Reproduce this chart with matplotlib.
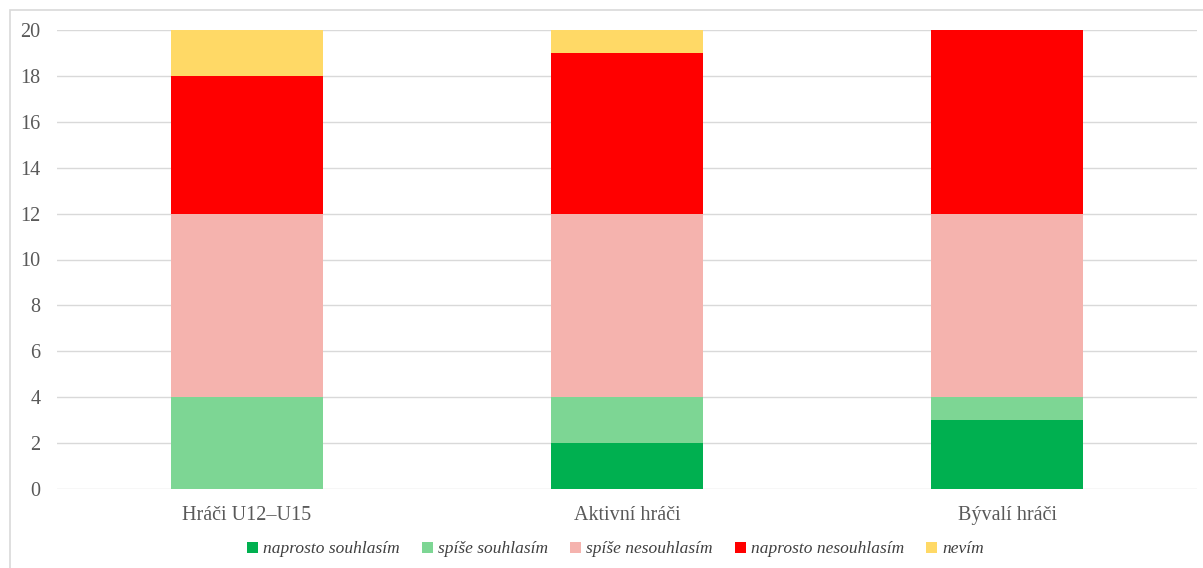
import matplotlib
matplotlib.use("Agg")
import matplotlib.pyplot as plt
from matplotlib.patches import Rectangle
import numpy as np

# Data
categories = ["Hráči U12–U15", "Aktivní hráči", "Bývalí hráči"]
series_names = ["naprosto souhlasím", "spíše souhlasím", "spíše nesouhlasím",
                "naprosto nesouhlasím", "nevím"]
naprosto_souhlasim = [0, 2, 3]
spise_souhlasim = [4, 2, 1]
spise_nesouhlasim = [8, 8, 8]
naprosto_nesouhlasim = [6, 7, 8]
nevim = [2, 1, 0]
colors = ["#00B050", "#7DD694", "#F5B3AE", "#FF0000", "#FFD966"]

plt.rcParams['font.family'] = ['Liberation Serif', 'DejaVu Serif']

fig = plt.figure(figsize=(12.03, 5.68), dpi=100)
ax = fig.add_axes([57 / 1203, 79 / 568, 1140 / 1203, 459 / 568])

# Outer chart border
fig.patches.append(Rectangle((10 / 1203, -0.01), 1200 / 1203, 558 / 568 + 0.01,
                             transform=fig.transFigure, fill=False,
                             edgecolor="#d9d9d9", linewidth=1.2))

x = np.arange(len(categories))
bottom = np.zeros(len(categories))
all_series = [naprosto_souhlasim, spise_souhlasim, spise_nesouhlasim,
              naprosto_nesouhlasim, nevim]
for name, vals, col in zip(series_names, all_series, colors):
    ax.bar(x, vals, width=0.4, bottom=bottom, color=col, label=name, zorder=3)
    bottom += np.array(vals)

ax.set_xlim(-0.5, 2.5)
ax.set_ylim(0, 20)
ax.set_yticks(range(0, 21, 2))
ax.set_xticks(x)
ax.set_xticklabels(categories)
ax.grid(axis="y", color="#d9d9d9", linewidth=1, zorder=0)
for s in ax.spines.values():
    s.set_visible(False)
ax.tick_params(axis="both", length=0, labelsize=14.5, colors="#595959")
ax.tick_params(axis="y", pad=12)
ax.tick_params(axis="x", pad=12)

leg = ax.legend(loc="upper center", bbox_to_anchor=(0.49, -0.08), ncol=5,
                frameon=False, handlelength=0.6, handleheight=0.6,
                handletextpad=0.3, columnspacing=1.3,
                prop={"style": "italic", "size": 12.5})
for t in leg.get_texts():
    t.set_color("#404040")

fig.savefig("out.png", dpi=100)
